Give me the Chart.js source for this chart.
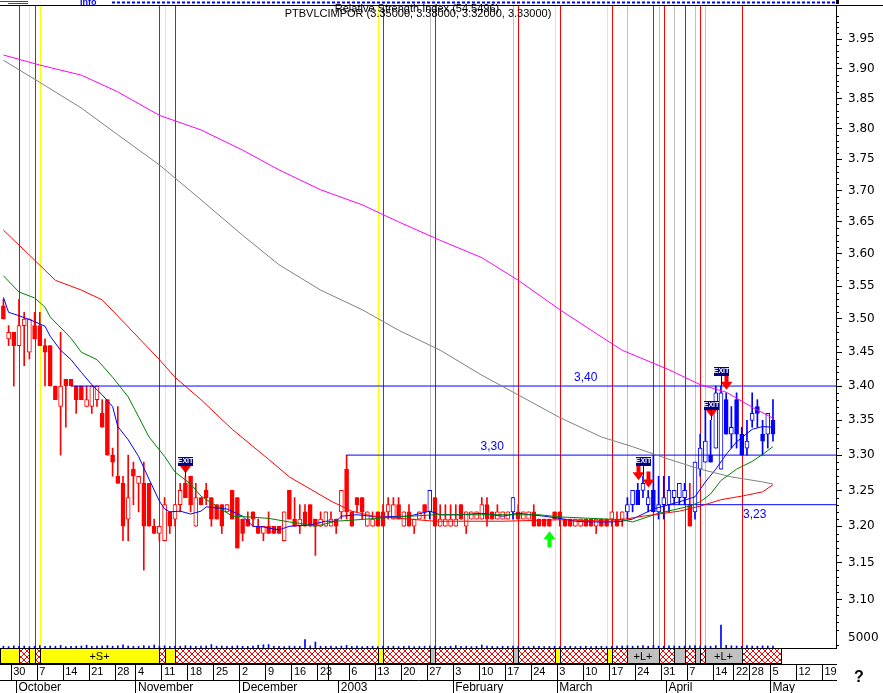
<!DOCTYPE html>
<html>
<head>
<meta charset="utf-8">
<title>PTBVLCIMPOR</title>
<script src="https://cdn.jsdelivr.net/npm/chart.js@4.4.1/dist/chart.umd.min.js"></script>
<style>
  html, body { margin: 0; padding: 0; background: #ffffff; }
  canvas { display: block; }
</style>
</head>
<body>
<canvas id="priceChart" width="883" height="693"></canvas>
<script>
// daily candles, one per trading day (index 0 = 26 Sep 2002)
const opens = [
  3.52,3.47,3.48,3.46,3.49,3.45,3.49,3.49,3.46,3.46, 3.40,3.37,3.41,3.41,3.40,3.40,3.37,3.37,3.38,3.36,
  3.38,3.30,3.27,3.26,3.21,3.28,3.26,3.26,3.26,3.20, 3.19,3.18,3.22,3.21,3.23,3.26,3.27,3.20,3.24,3.25,
  3.24,3.23,3.23,3.22,3.25,3.24,3.21,3.21,3.22,3.20, 3.19,3.20,3.20,3.20,3.18,3.25,3.21,3.20,3.22,3.23,
  3.21,3.20,3.20,3.20,3.21,3.22,3.28,3.22,3.24,3.24, 3.20,3.20,3.22,3.22,3.22,3.21,3.23,3.20,3.22,3.20,
  3.21,3.23,3.22,3.24,3.20,3.20,3.20,3.20,3.23,3.20, 3.21,3.21,3.21,3.23,3.22,3.21,3.21,3.21,3.22,3.22,
  3.21,3.21,3.22,3.21,3.21,3.21,3.22,3.22,3.21,3.21, 3.20,3.20,3.21,3.21,3.20,3.21,3.21,3.21,3.21,3.21,
  3.22,3.23,3.25,3.25,3.23,3.25,3.22,3.23,3.23,3.24, 3.24,3.24,3.23,3.22,3.28,3.29,3.30,3.31,3.28,3.38,
  3.33,3.38,3.33,3.31,3.35,3.37,3.33,3.33,3.35
];
const highs = [
  3.53,3.49,3.48,3.53,3.51,3.50,3.51,3.51,3.47,3.46, 3.40,3.48,3.41,3.41,3.40,3.40,3.40,3.40,3.40,3.38,
  3.38,3.31,3.37,3.27,3.30,3.29,3.27,3.29,3.26,3.21, 3.20,3.24,3.22,3.23,3.26,3.27,3.27,3.26,3.24,3.26,
  3.24,3.23,3.23,3.23,3.25,3.24,3.21,3.22,3.22,3.21, 3.20,3.22,3.20,3.20,3.22,3.25,3.24,3.23,3.23,3.23,
  3.21,3.22,3.22,3.22,3.21,3.25,3.30,3.22,3.24,3.24, 3.22,3.22,3.22,3.23,3.24,3.24,3.24,3.22,3.23,3.21,
  3.22,3.23,3.25,3.24,3.23,3.23,3.23,3.23,3.23,3.22, 3.22,3.22,3.24,3.24,3.22,3.23,3.22,3.22,3.24,3.23,
  3.22,3.22,3.23,3.21,3.21,3.21,3.22,3.22,3.21,3.21, 3.21,3.21,3.21,3.21,3.21,3.21,3.21,3.22,3.22,3.22,
  3.24,3.25,3.26,3.27,3.25,3.30,3.27,3.27,3.27,3.25, 3.26,3.26,3.26,3.29,3.33,3.37,3.35,3.40,3.40,3.39,
  3.37,3.39,3.34,3.35,3.39,3.38,3.35,3.36,3.38
];
const lows = [
  3.50,3.46,3.40,3.46,3.43,3.44,3.47,3.46,3.40,3.40, 3.38,3.30,3.34,3.40,3.36,3.38,3.37,3.36,3.37,3.34,
  3.30,3.27,3.26,3.18,3.18,3.23,3.22,3.14,3.20,3.19, 3.18,3.18,3.19,3.20,3.22,3.24,3.22,3.20,3.23,3.23,
  3.20,3.21,3.19,3.22,3.21,3.17,3.18,3.20,3.20,3.19, 3.18,3.19,3.19,3.19,3.18,3.21,3.20,3.19,3.20,3.20,
  3.16,3.20,3.20,3.20,3.19,3.21,3.21,3.20,3.22,3.21, 3.20,3.20,3.20,3.20,3.21,3.21,3.21,3.20,3.20,3.19,
  3.21,3.21,3.21,3.20,3.20,3.20,3.20,3.20,3.21,3.19, 3.21,3.21,3.21,3.20,3.21,3.21,3.21,3.21,3.21,3.21,
  3.21,3.21,3.20,3.20,3.20,3.20,3.21,3.20,3.20,3.20, 3.20,3.20,3.20,3.20,3.19,3.20,3.20,3.20,3.20,3.20,
  3.21,3.22,3.23,3.24,3.22,3.22,3.21,3.21,3.22,3.23, 3.23,3.23,3.20,3.21,3.27,3.29,3.29,3.31,3.28,3.33,
  3.31,3.31,3.30,3.30,3.34,3.34,3.30,3.31,3.32
];
const closes = [
  3.50,3.48,3.46,3.49,3.50,3.50,3.47,3.46,3.45,3.40, 3.38,3.40,3.40,3.40,3.38,3.38,3.38,3.40,3.40,3.34,
  3.30,3.29,3.26,3.20,3.24,3.27,3.27,3.20,3.20,3.19, 3.20,3.23,3.20,3.23,3.25,3.24,3.23,3.24,3.23,3.24,
  3.21,3.21,3.20,3.23,3.21,3.17,3.19,3.20,3.21,3.19, 3.20,3.19,3.19,3.19,3.22,3.21,3.20,3.21,3.20,3.20,
  3.20,3.21,3.22,3.21,3.20,3.25,3.22,3.20,3.23,3.22, 3.22,3.21,3.20,3.20,3.23,3.23,3.21,3.22,3.20,3.21,
  3.22,3.22,3.25,3.20,3.21,3.21,3.21,3.21,3.21,3.22, 3.22,3.22,3.23,3.21,3.21,3.22,3.22,3.22,3.24,3.21,
  3.22,3.22,3.20,3.20,3.20,3.20,3.21,3.21,3.20,3.20, 3.21,3.21,3.20,3.20,3.21,3.20,3.20,3.22,3.20,3.22,
  3.23,3.25,3.23,3.26,3.24,3.22,3.23,3.24,3.25,3.25, 3.26,3.25,3.20,3.29,3.31,3.32,3.29,3.39,3.39,3.33,
  3.34,3.33,3.30,3.32,3.36,3.36,3.32,3.36,3.33
];
const volumes = [
  900,700,1100,800,1000,700,900,1200,800,1000, 900,1300,700,800,900,1000,1400,800,900,1000,
  1200,900,1100,1600,1000,900,800,1200,1000,1500, 900,1100,800,1000,900,1200,1000,800,900,1000,
  1700,900,1000,800,900,1100,900,800,900,1400, 1600,1700,900,800,700,1000,900,800,4200,1000,
  3000,900,800,900,700,1000,1300,800,900,700, 800,900,700,1000,800,900,700,800,900,700,
  800,900,1000,900,700,800,900,1200,800,900, 700,800,1500,900,800,700,900,800,1000,900,
  800,700,900,800,700,800,900,700,800,900, 700,800,900,700,800,900,700,800,900,1000,
  1100,900,1000,1200,900,1300,1000,900,1100,1000, 900,1000,1100,1200,1000,1100,900,1200,11500,1300,
  1100,1000,900,1200,1000,900,1100,1000,900
];
// days drawn in blue (long side of the system)
const blueRanges = [[82, 82], [98, 98], [120, 131], [133, 148]];

// moving averages: [day index, value]
const maBlue = [[0,3.533],[1,3.51],[3,3.505],[6,3.496],[8,3.489],[9,3.474],[11,3.453],[13,3.439],[15,3.42],[17,3.402],
  [19,3.387],[21,3.37],[22,3.341],[24,3.322],[26,3.298],[28,3.266],[30,3.235],[31,3.224],[32,3.22],[34,3.221],
  [36,3.217],[38,3.221],[39,3.227],[43,3.224],[46,3.214],[48,3.2],[50,3.199],[53,3.195],[55,3.2],[59,3.202],
  [62,3.207],[64,3.207],[65,3.214],[68,3.216],[72,3.213],[78,3.214],[82,3.221],[84,3.216],[88,3.216],[92,3.218],
  [96,3.214],[99,3.218],[104,3.214],[107,3.211],[110,3.207],[113,3.206],[117,3.206],[119,3.207],[121,3.21],[125,3.224],
  [130,3.234],[133,3.241],[135,3.262],[137,3.28],[139,3.301],[141,3.319],[144,3.337],[146,3.341],[148,3.34]];
const maGreen = [[0,3.566],[3,3.541],[6,3.532],[8,3.518],[9,3.503],[13,3.471],[15,3.45],[18,3.439],[21,3.413],[24,3.384],
  [26,3.355],[28,3.326],[31,3.298],[33,3.276],[36,3.259],[38,3.242],[41,3.228],[44,3.214],[47,3.213],[51,3.211],
  [55,3.206],[57,3.204],[60,3.2],[64,3.207],[76,3.213],[83,3.216],[92,3.216],[103,3.216],[107,3.213],[113,3.211],
  [119,3.209],[121,3.206],[126,3.218],[132,3.228],[134,3.234],[136,3.245],[138,3.264],[141,3.28],[144,3.291],[146,3.301],[148,3.312]];
const maRed = [[0,3.637],[5,3.598],[10,3.559],[15,3.544],[19,3.529],[24,3.488],[30,3.439],[33,3.413],[38,3.38],[44,3.337],
  [51,3.294],[55,3.269],[59,3.252],[63,3.235],[67,3.221],[71,3.214],[78,3.21],[83,3.207],[96,3.207],[107,3.209],
  [117,3.207],[123,3.214],[130,3.221],[134,3.228],[138,3.237],[142,3.242],[146,3.248],[148,3.258]];
const maGray = [[0,3.914],[7,3.877],[15,3.834],[22,3.79],[30,3.741],[38,3.685],[46,3.629],[53,3.583],[61,3.544],[69,3.514],
  [76,3.483],[84,3.453],[92,3.416],[99,3.387],[107,3.354],[115,3.326],[121,3.312],[128,3.294],[134,3.28],[140,3.269],[146,3.262],[148,3.259]];
const maMagenta = [[0,3.923],[7,3.906],[15,3.889],[22,3.861],[30,3.822],[38,3.798],[46,3.765],[53,3.733],[61,3.701],[69,3.677],
  [76,3.65],[84,3.621],[92,3.594],[99,3.559],[107,3.514],[115,3.473],[119,3.453],[128,3.424],[134,3.402],[139,3.391],[144,3.369],[148,3.353]];

// horizontal levels
const levels = [3.40, 3.30, 3.23];
const levelStart = [13, 66, 128];
const levelLabelAt = [112, 94, 144.5];
const levelLabelBelow = [false, false, true];

// signal days
const redLines = [3, 6, 30, 33, 73, 83, 99, 107, 117, 125, 127, 131, 134, 142];
const yellowLines = [5, 7, 31, 72, 106, 116];
const grayLines = [82, 98, 120, 126, 129, 133, 135];
const exitArrows = [35, 122, 124, 136, 139];
const exitTags = [35, 123, 136, 138];
const entryArrows = [105];

// system state band: S = short (yellow), L = long (gray), X = flat (hatched)
const bandEdges = [-0.6, 3, 5, 6, 7, 30, 31, 33, 72, 73, 82, 83, 98, 99, 106, 107, 116, 117, 120, 126, 129, 131, 133, 134, 135, 142, 149.5];
const bandStates = ['S','X','S','X','S','X','S','X','S','X','L','X','L','X','S','X','S','X','L','X','L','X','L','X','L','X'];

// date axis
const weekTicks = [2, 7, 12, 17, 22, 26, 31, 36, 41, 46, 51, 56, 61, 63, 67, 72, 77, 82, 87, 92, 97, 102, 107, 112, 117, 122, 127, 132, 137, 141, 144, 148, 153, 158];
const weekLabels = ['30','7','14','21','28','4','11','18','25','2','9','16','23','30','6','13','20','27','3','10','17','24','3','10','17','24','31','7','14','22','28','5','12','19'];
const monthTicks = [3, 26, 46, 65, 87, 107, 128, 148];
const monthLabels = ['October', 'November', 'December', '2003', 'February', 'March', 'April', 'May'];

const titleText = 'PTBVLCIMPOR (3.35000, 3.38000, 3.32000, 3.33000)';
const rsiText = 'Relative Strength Index (54.5496)';

const xMin = -0.654;
const xMax = 160.12;
const FONT = "Arial, 'Liberation Sans', sans-serif";
const AXIS_FONT = "'DejaVu Sans', sans-serif";
Chart.defaults.font.family = FONT;
Chart.defaults.color = '#000';

const isBlue = i => blueRanges.some(r => i >= r[0] && i <= r[1]);
const candleColor = opens.map((o, i) => isBlue(i) ? '#0000ff' : '#ff0000');
const bodyFill = opens.map((o, i) => closes[i] >= o ? '#ffffff' : candleColor[i]);
const toPts = arr => arr.map(p => ({ x: p[0], y: p[1] }));

const maLine = (data, color) => ({
  type: 'line', data: toPts(data), borderColor: color, borderWidth: 1,
  pointRadius: 0, tension: 0, order: 0
});

const datasets = [
  {
    type: 'bar', yAxisID: 'yv', order: 3, grouped: false, barThickness: 1,
    data: volumes.map((v, i) => ({ x: i, y: v })), backgroundColor: '#0000ff'
  },
  {
    type: 'bar', order: 2, grouped: false, barThickness: 1,
    data: highs.map((h, i) => ({ x: i, y: [lows[i], h] })), backgroundColor: candleColor
  },
  {
    type: 'bar', order: 1, grouped: false, barThickness: 4, minBarLength: 1,
    data: opens.map((o, i) => ({ x: i, y: [o, closes[i]] })),
    backgroundColor: bodyFill, borderColor: candleColor, borderWidth: 1, borderSkipped: false
  },
  maLine(maMagenta, '#ff00ff'),
  maLine(maGray, '#808080'),
  maLine(maRed, '#ff0000'),
  maLine(maGreen, '#008000'),
  maLine(maBlue, '#0000ff')
];
levels.forEach((v, k) => datasets.push({
  type: 'line', data: [{ x: levelStart[k], y: v }, { x: xMax, y: v }],
  borderColor: '#0000ff', borderWidth: 1, pointRadius: 0, order: 0
}));

function makeHatch(ctx) {
  const c = document.createElement('canvas');
  c.width = 6; c.height = 6;
  const g = c.getContext('2d');
  g.fillStyle = '#fff';
  g.fillRect(0, 0, 6, 6);
  g.strokeStyle = '#ff0000';
  g.lineWidth = 1;
  g.beginPath();
  g.moveTo(0, 0); g.lineTo(6, 6);
  g.moveTo(6, 0); g.lineTo(0, 6);
  g.stroke();
  return ctx.createPattern(c, 'repeat');
}

function downArrow(ctx, x, tip) {
  ctx.beginPath();
  ctx.moveTo(x - 2, tip - 16); ctx.lineTo(x + 2, tip - 16); ctx.lineTo(x + 2, tip - 8);
  ctx.lineTo(x + 6, tip - 8); ctx.lineTo(x, tip); ctx.lineTo(x - 6, tip - 8);
  ctx.lineTo(x - 2, tip - 8); ctx.closePath(); ctx.fill();
}
function upArrow(ctx, x, tip) {
  ctx.beginPath();
  ctx.moveTo(x - 2, tip + 16); ctx.lineTo(x + 2, tip + 16); ctx.lineTo(x + 2, tip + 8);
  ctx.lineTo(x + 6, tip + 8); ctx.lineTo(x, tip); ctx.lineTo(x - 6, tip + 8);
  ctx.lineTo(x - 2, tip + 8); ctx.closePath(); ctx.fill();
}

const decor = {
  id: 'decor',
  beforeDatasetsDraw(chart) {
    const { ctx, chartArea: a, scales: { x } } = chart;
    ctx.save();
    ctx.lineWidth = 1;
    [[grayLines, '#c0c0c0'], [yellowLines, '#ffff00'], [redLines, '#ff0000']].forEach(([list, col]) => {
      ctx.strokeStyle = col;
      list.forEach(i => {
        const px = Math.round(x.getPixelForValue(i)) + 0.5;
        ctx.beginPath(); ctx.moveTo(px, a.top); ctx.lineTo(px, a.bottom); ctx.stroke();
      });
    });
    ctx.restore();
  },
  afterDatasetsDraw(chart) {
    const { ctx, scales: { x, y } } = chart;
    ctx.save();
    // level labels
    ctx.fillStyle = '#0000ff';
    ctx.font = '12px ' + FONT;
    ctx.textAlign = 'center';
    levels.forEach((v, k) => {
      const py = y.getPixelForValue(v);
      ctx.textBaseline = levelLabelBelow[k] ? 'top' : 'bottom';
      ctx.fillText(v.toFixed(2).replace('.', ','), x.getPixelForValue(levelLabelAt[k]), levelLabelBelow[k] ? py + 4 : py - 2);
    });
    // exit signals
    ctx.fillStyle = '#ff0000';
    exitArrows.forEach(i => downArrow(ctx, Math.round(x.getPixelForValue(i)) + 0.5, y.getPixelForValue(highs[i]) - 3));
    exitTags.forEach(i => {
      const px = Math.round(x.getPixelForValue(i));
      const hy = Math.round(y.getPixelForValue(highs[i]));
      ctx.strokeStyle = '#000080';
      ctx.beginPath(); ctx.moveTo(px + 0.5, hy - 10); ctx.lineTo(px + 0.5, hy); ctx.stroke();
      ctx.fillStyle = '#000080';
      ctx.fillRect(px - 7, hy - 19, 15, 9);
      ctx.fillStyle = '#ffffff';
      ctx.font = 'bold 7px ' + FONT;
      ctx.textBaseline = 'middle';
      ctx.fillText('EXIT', px + 0.5, hy - 14.5);
    });
    ctx.fillStyle = '#00ff00';
    entryArrows.forEach(i => upArrow(ctx, Math.round(x.getPixelForValue(i)) + 0.5, y.getPixelForValue(lows[i]) + 5));
    ctx.restore();
  },
  afterDraw(chart) {
    const { ctx, chartArea: a, scales: { x, y, xb, yv } } = chart;
    ctx.save();
    // state band
    const hatch = makeHatch(ctx);
    ctx.lineWidth = 1;
    bandStates.forEach((s, k) => {
      const x0 = Math.round(x.getPixelForValue(bandEdges[k]));
      const x1 = Math.round(x.getPixelForValue(bandEdges[k + 1]));
      const top = Math.round(xb.top) + 1, h = Math.round(xb.bottom - xb.top) - 1;
      ctx.fillStyle = s === 'S' ? '#ffff00' : s === 'L' ? '#c0c0c0' : hatch;
      ctx.fillRect(x0, top, x1 - x0, h);
      ctx.strokeStyle = '#000';
      ctx.strokeRect(x0 + 0.5, top - 0.5, x1 - x0, h);
      if (s !== 'X' && x1 - x0 > 28) {
        ctx.fillStyle = '#000';
        ctx.font = '11px ' + FONT;
        ctx.textAlign = 'center';
        ctx.textBaseline = 'middle';
        ctx.fillText('+' + s + '+', (x0 + x1) / 2, top + h / 2);
      }
    });
    // minor price ticks
    ctx.strokeStyle = '#000';
    for (let k = 304; k <= 400; k++) {
      if (k % 5 === 0) continue;
      const py = Math.round(y.getPixelForValue(k / 100)) + 0.5;
      ctx.beginPath(); ctx.moveTo(a.right, py); ctx.lineTo(a.right + 3, py); ctx.stroke();
    }
    // top strip
    ctx.beginPath(); ctx.moveTo(0, a.top - 0.5); ctx.lineTo(chart.width, a.top - 0.5); ctx.stroke();
    ctx.strokeStyle = '#ff0000';
    ctx.beginPath(); ctx.moveTo(0, 1.5); ctx.lineTo(28, 1.5); ctx.moveTo(8, 3.5); ctx.lineTo(28, 3.5); ctx.stroke();
    ctx.strokeStyle = '#0000ff';
    ctx.lineWidth = 2;
    ctx.setLineDash([3, 2]);
    ctx.beginPath(); ctx.moveTo(112, 2.5); ctx.lineTo(a.right, 2.5); ctx.stroke();
    ctx.setLineDash([]);
    ctx.fillStyle = '#0000ff';
    ctx.font = 'bold 9px ' + FONT;
    ctx.textAlign = 'left';
    ctx.textBaseline = 'alphabetic';
    ctx.fillText('Info', 80, 5);
    ctx.fillStyle = '#000';
    ctx.fillRect(a.right, 0, 3, 4);
    // titles
    ctx.font = '11px ' + FONT;
    ctx.textAlign = 'center';
    ctx.textBaseline = 'middle';
    const cx = (a.left + a.right) / 2;
    ctx.fillText(rsiText, cx - 1, a.top + 3);
    ctx.fillText(titleText, cx, a.top + 8);
    // volume scale label and help mark
    ctx.textAlign = 'left';
    ctx.font = '12px ' + AXIS_FONT;
    ctx.fillText('5000', a.right + 12, yv.getPixelForValue(5000));
    ctx.font = 'bold 16px ' + FONT;
    ctx.fillText('?', a.right + 18, chart.height - 15);
    ctx.restore();
  }
};

const noPad = s => { s.paddingLeft = 0; s.paddingRight = 0; s.paddingTop = 0; s.paddingBottom = 0; };
// a day label is hidden when the previous label leaves it no room
const weekLabel = i => (i > 0 && weekTicks[i] - weekTicks[i - 1] < 3) ? '' : weekLabels[i];

new Chart(document.getElementById('priceChart').getContext('2d'), {
  type: 'bar',
  data: { datasets },
  options: {
    responsive: false,
    animation: false,
    devicePixelRatio: 1,
    layout: { padding: { top: 6, left: 0, right: 0, bottom: 0 } },
    plugins: { legend: { display: false }, tooltip: { enabled: false } },
    scales: {
      x: {
        type: 'linear', position: 'bottom', min: xMin, max: xMax, weight: 1, offset: false,
        afterBuildTicks: s => { s.ticks = weekTicks.map(v => ({ value: v - 0.5 })); },
        afterFit: s => { s.height = 16; noPad(s); },
        grid: { drawOnChartArea: false, tickLength: 16, color: '#000', offset: false },
        border: { display: true, color: '#000' },
        ticks: {
          autoSkip: false, maxRotation: 0, align: 'start', padding: -15, labelOffset: 2,
          font: { size: 11 }, callback: (v, i) => weekLabel(i)
        }
      },
      xb: {
        type: 'linear', position: 'bottom', min: xMin, max: xMax, weight: 0, offset: false,
        afterFit: s => { s.height = 16; noPad(s); },
        grid: { display: false },
        border: { display: true, color: '#000' },
        ticks: { display: false }
      },
      xm: {
        type: 'linear', position: 'bottom', min: xMin, max: xMax, weight: 2, offset: false,
        afterBuildTicks: s => { s.ticks = monthTicks.map(v => ({ value: v - 0.5 })); },
        afterFit: s => { s.height = 13; noPad(s); },
        grid: { drawOnChartArea: false, tickLength: 13, color: '#000', offset: false },
        border: { display: true, color: '#000' },
        ticks: {
          autoSkip: false, maxRotation: 0, align: 'start', padding: -13, labelOffset: 2,
          font: { size: 12 }, callback: (v, i) => monthLabels[i]
        }
      },
      y: {
        type: 'logarithmic', position: 'right', min: 3.036, max: 4.007,
        afterBuildTicks: s => {
          const t = [];
          for (let k = 62; k <= 79; k++) t.push({ value: k * 5 / 100 });
          s.ticks = t;
        },
        afterFit: s => { s.width = 47; noPad(s); },
        grid: { drawOnChartArea: false, tickLength: 6, color: '#000' },
        border: { display: true, color: '#000' },
        ticks: { autoSkip: false, padding: 6, font: { size: 12, family: AXIS_FONT }, callback: v => v.toFixed(2) }
      },
      yv: { type: 'linear', display: false, min: 0, max: 321000 }
    }
  },
  plugins: [decor]
});
</script>
</body>
</html>
